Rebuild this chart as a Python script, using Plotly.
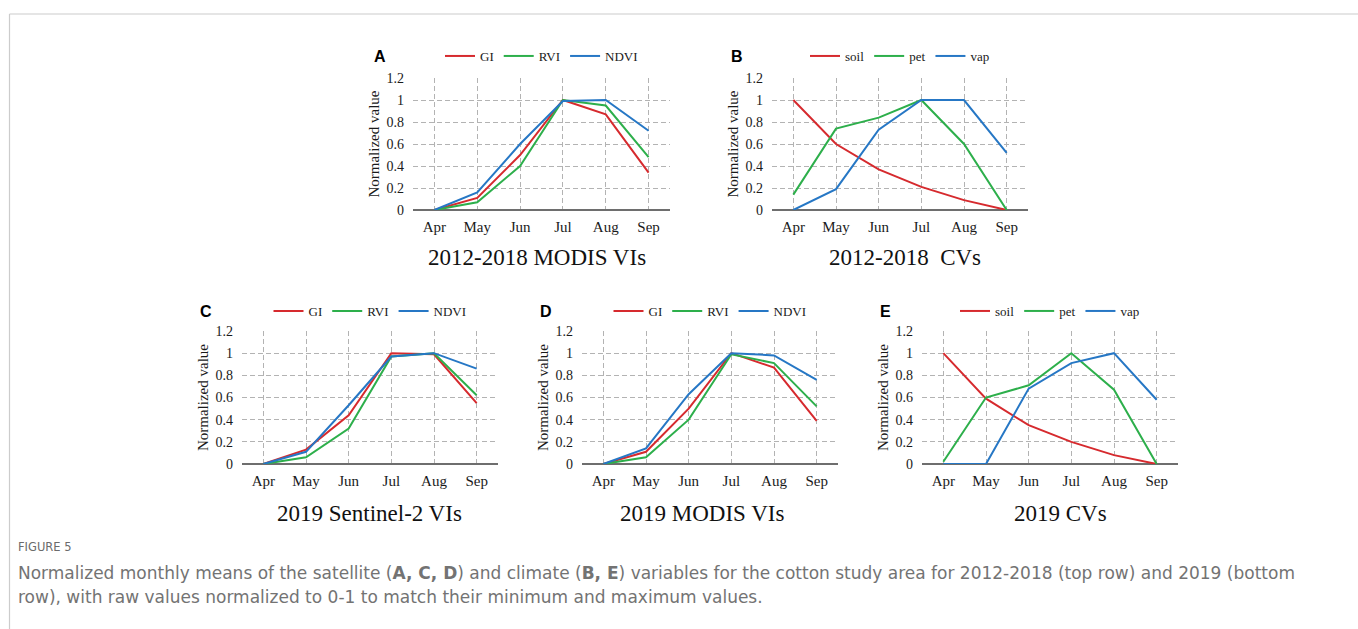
import plotly.graph_objects as go

W, H = 1358, 629

months = ["Apr", "May", "Jun", "Jul", "Aug", "Sep"]
y_ticks = [0, 0.2, 0.4, 0.6, 0.8, 1.0, 1.2]
y_tick_text = ["0", "0.2", "0.4", "0.6", "0.8", "1", "1.2"]

# Panel A: 2012-2018 MODIS VIs
a_gi = [0.0, 0.11, 0.50, 1.00, 0.87, 0.34]
a_rvi = [0.0, 0.07, 0.40, 1.00, 0.95, 0.48]
a_ndvi = [0.0, 0.16, 0.60, 0.99, 1.00, 0.72]
# Panel B: 2012-2018 CVs
b_soil = [1.00, 0.60, 0.37, 0.21, 0.09, 0.00]
b_pet = [0.14, 0.74, 0.84, 1.00, 0.60, 0.00]
b_vap = [0.00, 0.19, 0.73, 1.00, 1.00, 0.52]
# Panel C: 2019 Sentinel-2 VIs
c_gi = [0.0, 0.13, 0.44, 1.00, 0.99, 0.55]
c_rvi = [0.0, 0.06, 0.32, 0.97, 1.00, 0.62]
c_ndvi = [0.0, 0.11, 0.53, 0.97, 1.00, 0.86]
# Panel D: 2019 MODIS VIs
d_gi = [0.0, 0.11, 0.50, 1.00, 0.87, 0.39]
d_rvi = [0.0, 0.06, 0.40, 0.99, 0.91, 0.52]
d_ndvi = [0.0, 0.14, 0.63, 1.00, 0.98, 0.76]
# Panel E: 2019 CVs
e_soil = [1.00, 0.59, 0.35, 0.20, 0.08, 0.00]
e_pet = [0.02, 0.60, 0.71, 1.00, 0.67, 0.00]
e_vap = [0.00, 0.00, 0.68, 0.91, 1.00, 0.58]

vi_names = ["GI", "RVI", "NDVI"]
cv_names = ["soil", "pet", "vap"]
colors = ["#D62A2E", "#2DAF4B", "#2677C5"]

panels = [
    dict(letter="A", title="2012-2018 MODIS VIs", names=vi_names, series=[a_gi, a_rvi, a_ndvi],
         px=(413, 670), py=(78, 210), tx=537, ty=257, lx=372, ly=57, legy=56),
    dict(letter="B", title="2012-2018  CVs", names=cv_names, series=[b_soil, b_pet, b_vap],
         px=(772, 1028), py=(78, 210), tx=905, ty=257, lx=729, ly=57, legy=56),
    dict(letter="C", title="2019 Sentinel-2 VIs", names=vi_names, series=[c_gi, c_rvi, c_ndvi],
         px=(242, 498), py=(331, 464), tx=370, ty=513, lx=198, ly=312, legy=311),
    dict(letter="D", title="2019 MODIS VIs", names=vi_names, series=[d_gi, d_rvi, d_ndvi],
         px=(582, 838), py=(331, 464), tx=702, ty=513, lx=538, ly=312, legy=311),
    dict(letter="E", title="2019 CVs", names=cv_names, series=[e_soil, e_pet, e_vap],
         px=(922, 1178), py=(331, 464), tx=1060, ty=513, lx=878, ly=312, legy=311),
]

SERIF = "Liberation Serif, Times New Roman, serif"
fig = go.Figure()
layout = dict(
    width=W, height=H, margin=dict(l=0, r=0, t=0, b=0, autoexpand=False),
    paper_bgcolor="white", plot_bgcolor="white", showlegend=True,
    annotations=[], shapes=[],
)

def fx(p):
    return p / W

def fy(p):
    return 1 - p / H

for i, p in enumerate(panels):
    k = "" if i == 0 else str(i + 1)
    xa, ya = "x" + k, "y" + k
    leg = "legend" + k
    for name, vals, col in zip(p["names"], p["series"], colors):
        fig.add_trace(go.Scatter(
            x=months, y=vals, name=name, mode="lines",
            line=dict(color=col, width=2), xaxis=xa, yaxis=ya, legend=leg,
            hoverinfo="x+y+name",
        ))
    layout["xaxis" + k] = dict(
        domain=[fx(p["px"][0]), fx(p["px"][1])], anchor=ya,
        type="category", categoryorder="array", categoryarray=months,
        range=[-0.5, 5.5], showgrid=True, gridcolor="#B3B3B3", griddash="5px,3px", gridwidth=1,
        showline=False, zeroline=False, ticks="", ticklabelstandoff=6, automargin=False,
        tickfont=dict(family=SERIF, size=15, color="#1a1a1a"), fixedrange=True,
    )
    layout["yaxis" + k] = dict(
        domain=[fy(p["py"][1]), fy(p["py"][0])], anchor=xa,
        range=[0, 1.2], tickvals=y_ticks, ticktext=y_tick_text,
        showgrid=True, gridcolor="#B3B3B3", griddash="5px,3px", gridwidth=1,
        zeroline=True, zerolinecolor="#6E6E6E", zerolinewidth=1.6,
        showline=False, ticks="", ticklabelstandoff=8, automargin=False,
        tickfont=dict(family=SERIF, size=14, color="#1a1a1a"),
        title=dict(text="Normalized value", font=dict(family=SERIF, size=15, color="#1a1a1a"), standoff=3),
        fixedrange=True,
    )
    layout[leg] = dict(
        orientation="h", x=(fx(p["px"][0]) + fx(p["px"][1])) / 2, xanchor="center",
        y=fy(p["legy"]), yanchor="middle", bgcolor="rgba(0,0,0,0)",
        font=dict(family=SERIF, size=13, color="#1a1a1a"), itemwidth=30,
        itemclick=False, itemdoubleclick=False,
    )
    layout["annotations"].append(dict(
        text=p["title"], x=fx(p["tx"]), y=fy(p["ty"]), xref="paper", yref="paper",
        xanchor="center", yanchor="middle", showarrow=False,
        font=dict(family=SERIF, size=23, color="#111111"),
    ))
    layout["annotations"].append(dict(
        text="<b>" + p["letter"] + "</b>", x=fx(p["lx"]), y=fy(p["ly"]), xref="paper", yref="paper",
        xanchor="left", yanchor="middle", showarrow=False,
        font=dict(family="Liberation Sans, Arial, sans-serif", size=16, color="#000000"),
    ))

CAP = "DejaVu Sans, Verdana, sans-serif"
layout["annotations"].append(dict(
    text="FIGURE 5", x=fx(16), y=fy(547), xref="paper", yref="paper",
    xanchor="left", yanchor="middle", showarrow=False,
    font=dict(family=CAP, size=11.5, color="#6b6b6b"),
))
layout["annotations"].append(dict(
    text="Normalized monthly means of the satellite (<b>A, C, D</b>) and climate (<b>B, E</b>) variables for the cotton study area for 2012-2018 (top row) and 2019 (bottom",
    x=fx(16), y=fy(573), xref="paper", yref="paper",
    xanchor="left", yanchor="middle", showarrow=False,
    font=dict(family=CAP, size=17, color="#737373"),
))
layout["annotations"].append(dict(
    text="row), with raw values normalized to 0-1 to match their minimum and maximum values.",
    x=fx(16), y=fy(597), xref="paper", yref="paper",
    xanchor="left", yanchor="middle", showarrow=False,
    font=dict(family=CAP, size=17, color="#737373"),
))

# frame border
layout["shapes"].append(dict(type="line", xref="paper", yref="paper", x0=fx(9.5), x1=fx(9.5),
                             y0=fy(14), y1=0, line=dict(color="#CCCCCC", width=1.2)))
layout["shapes"].append(dict(type="line", xref="paper", yref="paper", x0=fx(9.5), x1=1,
                             y0=fy(14), y1=fy(14), line=dict(color="#CCCCCC", width=1.2)))

fig.update_layout(**layout)
fig.write_html("out.html")
